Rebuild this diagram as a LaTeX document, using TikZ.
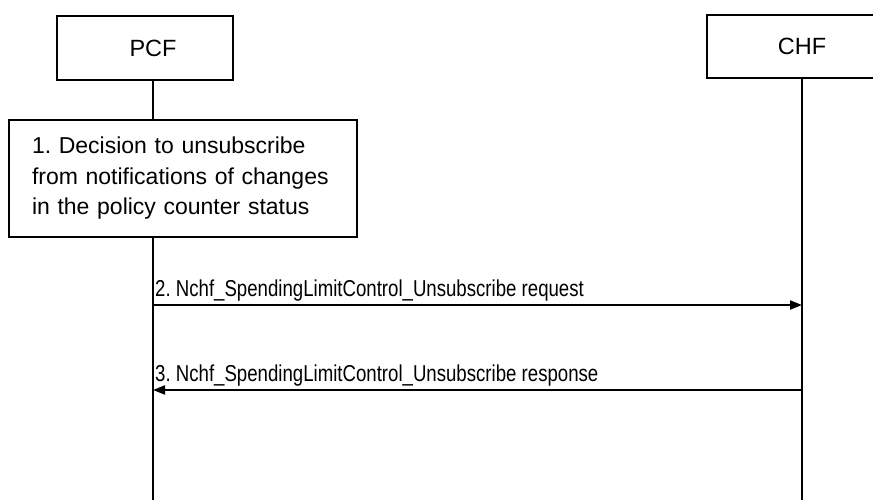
\documentclass[tikz,border=0pt]{standalone}
\usepackage{fontspec}
\setmainfont{Liberation Sans}
\newfontfamily\narrowfont[FakeStretch=0.81]{Liberation Sans}
\usetikzlibrary{arrows.meta}
\frenchspacing
\begin{document}
\begin{tikzpicture}[x=1pt,y=-1pt,
  box/.style={draw, line width=2pt, inner sep=0pt},
  life/.style={line width=1.7pt},
  msg/.style={line width=2pt, -{Triangle[length=12pt,width=9pt]}},
  lbl/.style={font=\narrowfont\fontsize{23}{27}\selectfont, anchor=base west, inner sep=0pt}]
\useasboundingbox (0,0) rectangle (873,500);
\node[box, minimum width=176pt, minimum height=64pt, font=\fontsize{23.5}{28}\selectfont] (pcf) at (145,48) {\hspace*{16pt}PCF};
\node[box, minimum width=190pt, minimum height=63pt, font=\fontsize{23.5}{28}\selectfont] (chf) at (802,46.5) {CHF};
\node[box, text width=302pt, inner xsep=23pt, minimum height=117pt, align=left, font=\fontsize{23}{30.5}\selectfont] (dec) at (183,178.5) {1. Decision to unsubscribe\\from notifications of changes\\in the policy counter status};
\coordinate (pL) at (153,500);
\coordinate (cL) at (802,500);
\coordinate (m2s) at (153,305);
\coordinate (m2e) at (802,305);
\coordinate (m3s) at (802,390);
\coordinate (m3e) at (153,390);
\draw[life] (pcf.south -| pL) -- (dec.north -| pL);
\draw[life] (dec.south -| pL) -- (pL);
\draw[life] (chf.south) -- (cL);
\draw[msg] (m2s) -- (m2e);
\draw[msg] (m3s) -- (m3e);
\node[lbl] (t2) at (155,296) {2. Nchf\_SpendingLimitControl\_Unsubscribe request};
\node[lbl] (t3) at (155,381) {3. Nchf\_SpendingLimitControl\_Unsubscribe response};
\end{tikzpicture}
\end{document}
